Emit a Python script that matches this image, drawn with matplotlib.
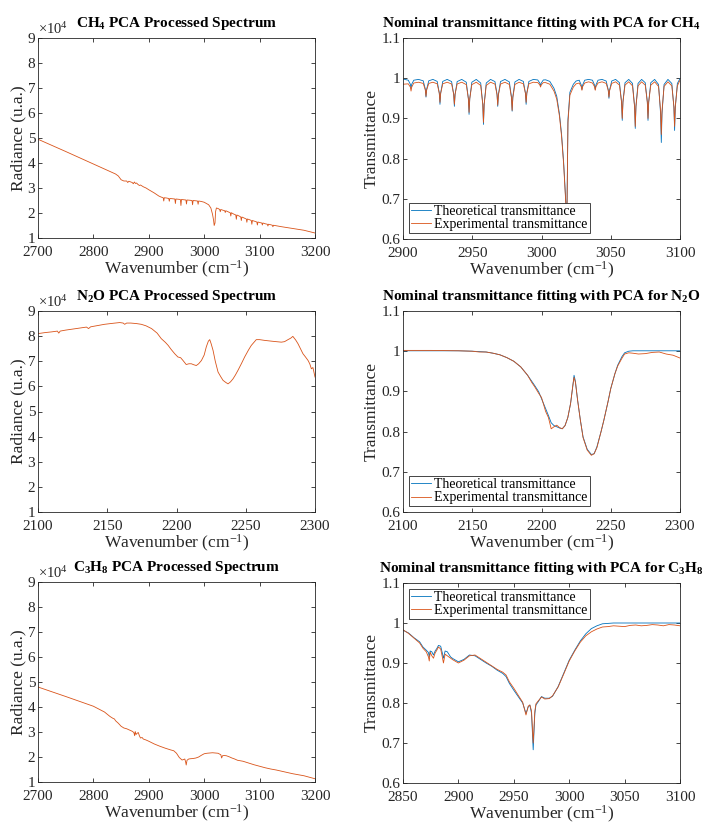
import matplotlib
matplotlib.use("Agg")
import matplotlib.pyplot as plt
import numpy as np
from matplotlib.ticker import FormatStrFormatter

# ---- data ----
# radiance values are in units of 1e4
ch4_rad_x = [2700, 2750, 2800, 2840, 2845, 2850, 2855, 2860, 2862, 2864, 2870, 2872, 2874, 2876, 2878, 2880, 2883,
             2885, 2890, 2895, 2900, 2910, 2918, 2922,
             2926, 2927, 2928, 2932, 2936, 2937, 2938, 2943, 2947, 2948, 2949, 2953, 2957, 2958, 2959, 2963,
             2967, 2968, 2969, 2974, 2978, 2979, 2980, 2984, 2988, 2989, 2990, 2995, 3000, 3008, 3012, 3015,
             3017, 3018, 3019.5, 3020.5, 3022, 3025, 3028, 3029, 3030, 3034, 3037, 3038, 3039, 3043, 3047, 3048,
             3049, 3053, 3057, 3058, 3059, 3063, 3066, 3067, 3068, 3072, 3076, 3077, 3078, 3082, 3085, 3086,
             3087, 3091, 3095, 3096, 3097, 3100, 3104, 3105, 3106, 3110, 3114, 3115, 3116, 3120, 3123, 3124,
             3125, 3130, 3140, 3160, 3180, 3200]
ch4_rad_y = [4.95, 4.46, 3.96, 3.56, 3.48, 3.33, 3.28, 3.28, 3.22, 3.27, 3.22, 3.17, 3.24, 3.18, 3.2, 3.15, 3.1,
             3.12, 3.05, 3.0, 2.93, 2.80, 2.68, 2.64,
             2.61, 2.48, 2.61, 2.60, 2.58, 2.47, 2.58, 2.57, 2.56, 2.38, 2.56, 2.55, 2.54, 2.30, 2.54, 2.53,
             2.52, 2.36, 2.52, 2.51, 2.50, 2.33, 2.50, 2.49, 2.48, 2.35, 2.48, 2.46, 2.43, 2.33, 2.2, 1.95,
             1.7, 1.5, 1.6, 2.05, 2.2, 2.18, 2.14, 2.05, 2.14, 2.11, 2.09, 2.02, 2.09, 2.05, 2.01, 1.88,
             2.01, 1.96, 1.92, 1.75, 1.92, 1.88, 1.84, 1.70, 1.84, 1.80, 1.76, 1.63, 1.76, 1.73, 1.70, 1.55,
             1.70, 1.67, 1.64, 1.52, 1.64, 1.62, 1.60, 1.52, 1.60, 1.57, 1.55, 1.48, 1.55, 1.53, 1.51, 1.45,
             1.51, 1.49, 1.45, 1.38, 1.31, 1.20]

ch4_tr_x = [2900,
            2903.8, 2905.3, 2905.8, 2906.3, 2907.8, 2911.2,
            2914.6, 2916.1, 2916.6, 2917.1, 2918.6, 2921.6,
            2924.7, 2926.2, 2926.7, 2927.2, 2928.7, 2931.9,
            2935.1, 2936.6, 2937.1, 2937.6, 2939.1, 2942.4,
            2945.7, 2947.2, 2947.7, 2948.2, 2949.7, 2952.9,
            2956.1, 2957.6, 2958.1, 2958.6, 2960.1, 2963.2,
            2966.4, 2967.9, 2968.4, 2968.9, 2970.4, 2973.6,
            2976.8, 2978.3, 2978.8, 2979.3, 2980.8, 2983.8,
            2986.9, 2988.4, 2988.9, 2989.4, 2990.9, 2994.1,
            2997.3, 2998.8, 2999.3, 2999.8, 3001.3,
            3003, 3006, 3009, 3011, 3013, 3014.5, 3016, 3017.2, 3018.3, 3019.1, 3020.5, 3023, 3025,
            3027.2, 3028.7, 3029.2, 3029.7, 3031.2, 3034.0,
            3036.8, 3038.3, 3038.8, 3039.3, 3040.8, 3043.7,
            3046.7, 3048.2, 3048.7, 3049.2, 3050.7, 3053.5,
            3056.3, 3057.8, 3058.3, 3058.8, 3060.3, 3063.0,
            3065.7, 3067.2, 3067.7, 3068.2, 3069.7, 3072.3,
            3074.9, 3076.4, 3076.9, 3077.4, 3078.9, 3081.7,
            3084.5, 3086.0, 3086.5, 3087.0, 3088.5, 3091.3,
            3094.1, 3095.6, 3096.1, 3096.6, 3098.1,
            3100]
ch4_tr_theo = [0.998,
               0.995, 0.985, 0.975, 0.985, 0.995, 0.997,
               0.9935, 0.973, 0.953, 0.973, 0.9935, 0.997,
               0.992, 0.963, 0.935, 0.963, 0.992, 0.997,
               0.9916, 0.960, 0.930, 0.960, 0.9916, 0.997,
               0.990, 0.949, 0.910, 0.949, 0.990, 0.997,
               0.988, 0.935, 0.885, 0.935, 0.988, 0.997,
               0.9916, 0.960, 0.930, 0.960, 0.9916, 0.997,
               0.9907, 0.9535, 0.918, 0.9535, 0.9907, 0.997,
               0.992, 0.963, 0.935, 0.963, 0.992, 0.997,
               0.9956, 0.9877, 0.980, 0.9877, 0.9956,
               0.996, 0.992, 0.975, 0.955, 0.91, 0.86, 0.79, 0.715, 0.64, 0.897, 0.965, 0.985, 0.993,
               0.995, 0.983, 0.972, 0.983, 0.995, 0.997,
               0.995, 0.983, 0.972, 0.983, 0.995, 0.997,
               0.993, 0.971, 0.950, 0.971, 0.993, 0.997,
               0.9888, 0.941, 0.895, 0.941, 0.9888, 0.997,
               0.987, 0.930, 0.875, 0.930, 0.987, 0.997,
               0.9888, 0.941, 0.895, 0.941, 0.9888, 0.997,
               0.9844, 0.9107, 0.840, 0.9107, 0.9844, 0.997,
               0.9868, 0.927, 0.870, 0.927, 0.9868,
               0.999]
ch4_tr_exp = [0.985,
              0.986, 0.978, 0.968, 0.978, 0.988, 0.990,
              0.987, 0.971, 0.955, 0.971, 0.987, 0.990,
              0.986, 0.9625, 0.940, 0.9625, 0.986, 0.990,
              0.9856, 0.960, 0.935, 0.960, 0.9856, 0.990,
              0.984, 0.949, 0.915, 0.949, 0.984, 0.990,
              0.982, 0.935, 0.890, 0.935, 0.982, 0.990,
              0.9854, 0.9586, 0.933, 0.9586, 0.9854, 0.990,
              0.9844, 0.9515, 0.920, 0.9515, 0.9844, 0.990,
              0.986, 0.9625, 0.940, 0.9625, 0.986, 0.990,
              0.989, 0.9834, 0.978, 0.9834, 0.989,
              0.989, 0.985, 0.968, 0.948, 0.905, 0.855, 0.785, 0.71, 0.64, 0.89, 0.958, 0.978, 0.986,
              0.988, 0.979, 0.970, 0.979, 0.988, 0.991,
              0.988, 0.979, 0.970, 0.979, 0.988, 0.991,
              0.987, 0.9696, 0.953, 0.9696, 0.987, 0.991,
              0.9828, 0.9405, 0.900, 0.9405, 0.9828, 0.991,
              0.981, 0.9295, 0.880, 0.9295, 0.981, 0.991,
              0.9828, 0.9405, 0.900, 0.9405, 0.9828, 0.991,
              0.9796, 0.9185, 0.860, 0.9185, 0.9796, 0.991,
              0.981, 0.9295, 0.880, 0.9295, 0.981,
              0.995]

n2o_rad_x = [2100, 2105, 2110, 2114, 2115, 2116, 2120, 2125, 2130, 2135, 2136.5, 2138, 2143, 2148, 2154, 2159,
             2161.5, 2162.6, 2164, 2167, 2171, 2174.6, 2178, 2182, 2186, 2189, 2192, 2194, 2196, 2198.7, 2201,
             2203, 2204.7, 2207, 2209, 2210.7, 2212.5, 2214.3, 2216, 2218, 2220, 2221.5, 2223, 2224, 2225,
             2226.4, 2228, 2230, 2232, 2233.6, 2235.5, 2237.2, 2239, 2240.8, 2242.5, 2244.4, 2247, 2249.2,
             2252, 2254, 2257.6, 2260, 2263.7, 2268.5, 2272, 2275.7, 2278, 2280.5, 2282.5, 2284, 2286, 2287.7,
             2289.5, 2291.3, 2293, 2295, 2296.2, 2297.4, 2298.5, 2299.3, 2300]
n2o_rad_y = [8.10, 8.14, 8.17, 8.20, 8.12, 8.20, 8.24, 8.28, 8.32, 8.36, 8.30, 8.37, 8.42, 8.47, 8.51, 8.54,
             8.52, 8.47, 8.52, 8.52, 8.50, 8.47, 8.41, 8.30, 8.12, 7.90, 7.75, 7.63, 7.48, 7.30, 7.17,
             7.14, 7.03, 6.87, 6.90, 6.90, 6.86, 6.83, 6.90, 7.03, 7.25, 7.57, 7.80, 7.86, 7.70,
             7.43, 7.00, 6.57, 6.38, 6.24, 6.16, 6.10, 6.18, 6.30, 6.45, 6.64, 6.92, 7.17,
             7.45, 7.63, 7.86, 7.86, 7.83, 7.80, 7.78, 7.76, 7.78, 7.86, 7.92, 7.99, 7.85, 7.70,
             7.50, 7.30, 7.18, 7.03, 6.90, 6.70, 6.75, 6.55, 6.37]

n2o_tr_x = [2100, 2120, 2140, 2150, 2155, 2160, 2165, 2170, 2175, 2180, 2185, 2190, 2193, 2195, 2198, 2200,
            2203, 2205, 2207, 2209, 2211, 2213, 2215, 2217, 2219, 2221, 2222.5, 2223.5, 2224.5, 2226, 2228,
            2230, 2233, 2236, 2238, 2240, 2243, 2245, 2248, 2250, 2253, 2255, 2258, 2260, 2263, 2266, 2270,
            2275, 2280, 2285, 2290, 2295, 2300]
n2o_tr_theo = [1.001, 1.001, 1.001, 1.0, 0.999, 0.998, 0.995, 0.991, 0.984, 0.975, 0.961, 0.94, 0.925, 0.915,
               0.899, 0.882, 0.857, 0.84, 0.822, 0.815, 0.812, 0.809, 0.807, 0.815, 0.835, 0.87, 0.91, 0.94,
               0.925, 0.88, 0.83, 0.787, 0.756, 0.743, 0.745, 0.762, 0.80, 0.828, 0.874, 0.907, 0.944, 0.965,
               0.986, 0.996, 1.0, 1.001, 1.001, 1.001, 1.001, 1.001, 1.001, 1.001, 1.001]
n2o_tr_exp = [1.002, 1.002, 1.001, 1.0, 0.998, 0.998, 0.995, 0.991, 0.984, 0.975, 0.961, 0.94, 0.922, 0.912,
              0.895, 0.885, 0.85, 0.835, 0.807, 0.812, 0.816, 0.81, 0.807, 0.815, 0.835, 0.87, 0.912, 0.935,
              0.922, 0.88, 0.83, 0.785, 0.754, 0.741, 0.745, 0.76, 0.80, 0.828, 0.874, 0.907, 0.944, 0.963,
              0.982, 0.993, 0.996, 0.995, 0.993, 0.994, 0.997, 0.998, 0.993, 0.99, 0.983]

c3h8_rad_x = [2700, 2750, 2800, 2820, 2830, 2835, 2838, 2840, 2845, 2850, 2855, 2860, 2865, 2870, 2873, 2874.5,
              2875.5, 2877, 2879, 2881, 2883, 2885, 2888, 2890, 2895, 2900, 2910, 2920, 2930, 2940, 2945,
              2950, 2955, 2960, 2963, 2965, 2966.5, 2967.5, 2969, 2972, 2975, 2980, 2985, 2990, 2995, 3000,
              3005, 3010, 3015, 3020, 3025, 3030, 3031.5, 3033, 3036, 3040, 3045, 3050, 3055, 3060, 3065,
              3070, 3080, 3090, 3100, 3110, 3120, 3130, 3140, 3150, 3160, 3170, 3180, 3190, 3200]
c3h8_rad_y = [4.8, 4.42, 4.03, 3.8, 3.62, 3.55, 3.52, 3.45, 3.35, 3.23, 3.16, 3.13, 3.08, 3.03, 2.98, 2.85,
              3.02, 2.9, 2.95, 2.98, 2.85, 2.76, 2.78, 2.72, 2.68, 2.63, 2.52, 2.43, 2.35, 2.28, 2.25,
              2.15, 1.98, 1.88, 1.9, 1.92, 1.8, 1.68, 1.87, 1.92, 1.93, 1.94, 1.96, 2.0, 2.07, 2.13,
              2.15, 2.16, 2.17, 2.16, 2.15, 2.09, 1.96, 2.05, 2.06, 2.05, 2.01, 1.96, 1.92, 1.87, 1.85,
              1.83, 1.76, 1.69, 1.63, 1.57, 1.52, 1.48, 1.43, 1.38, 1.33, 1.29, 1.25, 1.19, 1.13]

c3h8_tr_x = [2850, 2855, 2860, 2865, 2868, 2871, 2873, 2873.7, 2874.5, 2876, 2877.5, 2879, 2880.5, 2882, 2884,
             2885.5, 2886.5, 2888, 2890, 2893, 2895, 2900, 2905, 2910, 2915, 2920, 2925, 2930, 2935, 2940,
             2943, 2946, 2950, 2955, 2958, 2961, 2963, 2964.5, 2966, 2967.5, 2969, 2970, 2972, 2975, 2978,
             2982, 2985, 2990, 2995, 3000, 3005, 3010, 3015, 3020, 3025, 3030, 3035, 3040, 3045, 3050,
             3055, 3060, 3065, 3070, 3075, 3080, 3085, 3090, 3095, 3100]
c3h8_tr_theo = [0.982, 0.975, 0.963, 0.953, 0.94, 0.932, 0.926, 0.915, 0.93, 0.928, 0.92, 0.93, 0.936, 0.944,
                0.942, 0.925, 0.912, 0.93, 0.928, 0.915, 0.911, 0.903, 0.909, 0.92, 0.918, 0.909, 0.90, 0.892,
                0.882, 0.874, 0.866, 0.849, 0.832, 0.812, 0.80, 0.774, 0.79, 0.795, 0.774, 0.683, 0.774, 0.795,
                0.803, 0.816, 0.812, 0.812, 0.817, 0.841, 0.874, 0.907, 0.932, 0.955, 0.973, 0.986, 0.993,
                0.998, 0.999, 1.0, 1.0, 1.0, 1.0, 1.0, 1.0, 1.0, 1.0, 1.0, 1.0, 1.0, 1.0, 1.0]
c3h8_tr_exp = [0.983, 0.974, 0.962, 0.95, 0.937, 0.928, 0.915, 0.905, 0.927, 0.918, 0.912, 0.925, 0.932, 0.94,
               0.935, 0.915, 0.90, 0.922, 0.918, 0.912, 0.908, 0.90, 0.907, 0.918, 0.92, 0.911, 0.902, 0.893,
               0.884, 0.877, 0.87, 0.853, 0.837, 0.815, 0.802, 0.77, 0.792, 0.795, 0.78, 0.70, 0.78, 0.798,
               0.805, 0.815, 0.81, 0.811, 0.818, 0.84, 0.872, 0.905, 0.93, 0.952, 0.968, 0.978, 0.985,
               0.99, 0.991, 0.993, 0.992, 0.991, 0.994, 0.995, 0.993, 0.994, 0.996, 0.995, 0.993, 0.996,
               0.995, 0.993]

BLUE = '#0072BD'
ORANGE = '#D95319'
GRAY = '#262626'

plt.rcParams['font.family'] = ['Liberation Serif', 'DejaVu Serif']
plt.rcParams['mathtext.fontset'] = 'custom'
plt.rcParams['mathtext.rm'] = 'Liberation Serif'
plt.rcParams['mathtext.it'] = 'Liberation Serif:italic'
plt.rcParams['mathtext.bf'] = 'Liberation Serif:bold'
plt.rcParams['axes.edgecolor'] = GRAY
plt.rcParams['axes.linewidth'] = 0.6
plt.rcParams['xtick.color'] = GRAY
plt.rcParams['ytick.color'] = GRAY

fig = plt.figure(figsize=(7.09, 8.26), dpi=100)

W, H = 709.0, 826.0
def make_ax(left, top, right, bottom):
    return fig.add_axes([left / W, 1 - bottom / H, (right - left) / W, (bottom - top) / H])

def style(ax, xlim, xticks, ylim, yticks, ylabel, title):
    ax.set_xlim(xlim)
    ax.set_ylim(ylim)
    ax.set_xticks(xticks)
    ax.set_yticks(yticks)
    ax.tick_params(direction='in', length=3, width=0.6, top=True, right=True, labelsize=11, pad=2)
    ax.tick_params(axis='x', pad=6)
    ax.set_xlabel('Wavenumber (cm$^{-1}$)', fontsize=12.5, color=GRAY, labelpad=0)
    ax.set_ylabel(ylabel, fontsize=12.5, color=GRAY, labelpad=1)
    ax.set_title(title, fontsize=11, fontweight='bold', pad=8)

def radiance(ax, x, y, xlim, xticks, title):
    ax.plot(x, np.array(y) * 1e4, color=ORANGE, lw=0.6)
    style(ax, xlim, xticks, (1e4, 9e4), np.arange(1, 10) * 1e4, 'Radiance (u.a.)', title)
    ax.set_yticklabels([str(v) for v in range(1, 10)])
    ax.text(0.0, 1.003, r'$\times10^4$', transform=ax.transAxes, fontsize=10.5, color=GRAY,
            ha='left', va='bottom')

def transm(ax, x, yt, ye, xlim, xticks, title, loc):
    ax.plot(x, yt, color=BLUE, lw=0.6, label='Theoretical transmittance')
    ax.plot(x, ye, color=ORANGE, lw=0.6, label='Experimental transmittance')
    style(ax, xlim, xticks, (0.6, 1.1), np.arange(0.6, 1.15, 0.1), 'Transmittance', title)
    ax.yaxis.set_major_formatter(FormatStrFormatter('%g'))
    leg = ax.legend(loc=loc, fontsize=10, frameon=True, fancybox=False, handlelength=1.5,
                    handletextpad=0.2, borderpad=0.15, labelspacing=0.05, borderaxespad=0.4)
    leg.get_frame().set_edgecolor(GRAY)
    leg.get_frame().set_linewidth(0.6)
    leg.get_frame().set_alpha(1)

ax1 = make_ax(38, 38, 315, 238)
radiance(ax1, ch4_rad_x, ch4_rad_y, (2700, 3200), range(2700, 3201, 100), r'CH$_\mathbf{4}$ PCA Processed Spectrum')
ax2 = make_ax(403, 38, 680, 239)
transm(ax2, ch4_tr_x, ch4_tr_theo, ch4_tr_exp, (2900, 3100), range(2900, 3101, 50),
       r'Nominal transmittance fitting with PCA for CH$_\mathbf{4}$', 'lower left')

ax3 = make_ax(38, 311, 315, 512)
radiance(ax3, n2o_rad_x, n2o_rad_y, (2100, 2300), range(2100, 2301, 50), r'N$_\mathbf{2}$O PCA Processed Spectrum')
ax4 = make_ax(403, 311, 680, 512)
transm(ax4, n2o_tr_x, n2o_tr_theo, n2o_tr_exp, (2100, 2300), range(2100, 2301, 50),
       r'Nominal transmittance fitting with PCA for N$_\mathbf{2}$O', 'lower left')

ax5 = make_ax(38, 582, 315, 782)
radiance(ax5, c3h8_rad_x, c3h8_rad_y, (2700, 3200), range(2700, 3201, 100),
         r'C$_\mathbf{3}$H$_\mathbf{8}$ PCA Processed Spectrum')
ax6 = make_ax(403, 583, 680, 783)
transm(ax6, c3h8_tr_x, c3h8_tr_theo, c3h8_tr_exp, (2850, 3100), range(2850, 3101, 50),
       r'Nominal transmittance fitting with PCA for C$_\mathbf{3}$H$_\mathbf{8}$', 'upper left')

fig.savefig('out.png', dpi=100)
